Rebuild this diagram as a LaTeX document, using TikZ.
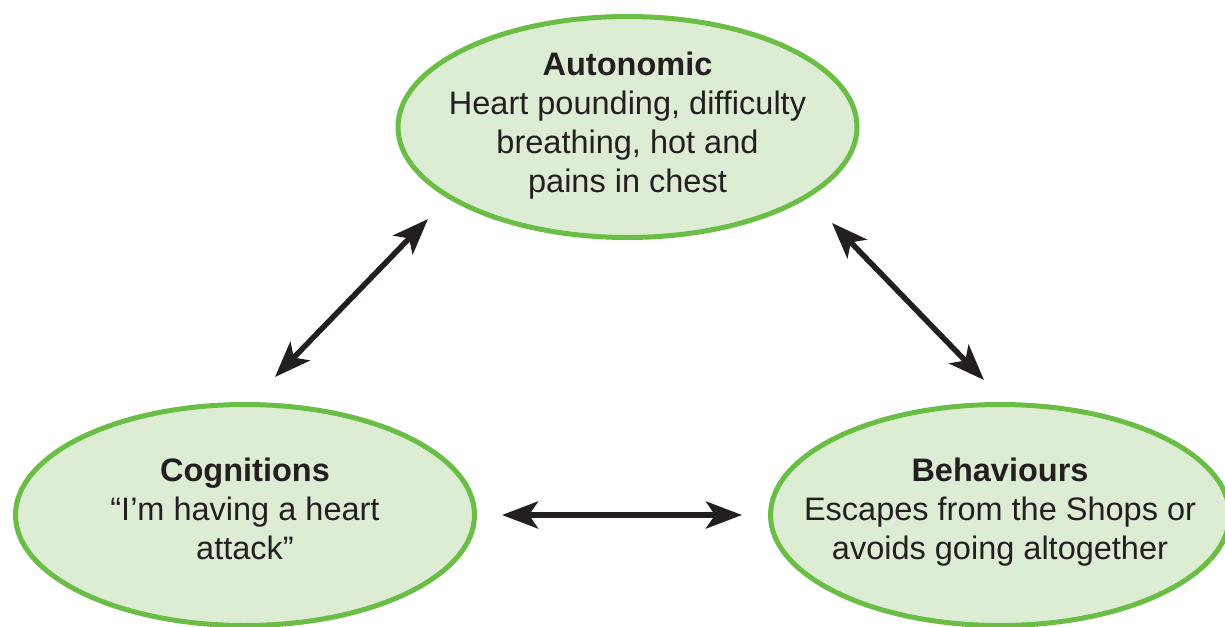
\documentclass[tikz,border=0pt]{standalone}
\usepackage{fontspec}
\setmainfont{Liberation Sans}
\usetikzlibrary{shapes.geometric,arrows.meta}
\definecolor{edgegreen}{RGB}{106,189,69}
\definecolor{fillgreen}{RGB}{221,237,212}
\definecolor{ink}{RGB}{35,31,32}
\tikzset{
  blob/.style={ellipse, draw=edgegreen, fill=fillgreen, line width=5pt,
    minimum width=459pt, minimum height=221pt, inner sep=0pt},
  blobtext/.style={align=center, text=ink, inner sep=0pt,
    font={\fontsize{32.5pt}{39pt}\selectfont}},
  link/.style={draw=ink, line width=5.5pt,
    {Stealth[length=36pt,width=27pt,inset=9pt]}-{Stealth[length=36pt,width=27pt,inset=9pt]}}
}
\begin{document}
\begin{tikzpicture}[x=1pt,y=-1pt]
\useasboundingbox (0,0) rectangle (1225,626);
\fill[white] (0,0) rectangle (1225,626);
\node[blob] (aut) at (627.5,127) {};
\node[blob] (cog) at (245,515) {};
\node[blob] (beh) at (1000,515) {};
\node[blobtext] (autT) at (627.5,126) {\textbf{Autonomic}\\Heart pounding, difficulty\\breathing, hot and\\pains in chest};
\node[blobtext] (cogT) at (245,509) {\textbf{Cognitions}\\“I’m having a heart\\attack”};
\node[blobtext] (behT) at (1000,512) {\textbf{Behaviours}\\Escapes from the Shops or\\avoids going altogether};
\coordinate (a1s) at (275,377);
\coordinate (a1e) at (428,219);
\coordinate (a2s) at (832,223);
\coordinate (a2e) at (984,380);
\draw[link] (a1s) -- (a1e);
\draw[link] (a2s) -- (a2e);
\draw[link, shorten <=25pt, shorten >=26pt] (cog.east) -- (beh.west);
\end{tikzpicture}
\end{document}
